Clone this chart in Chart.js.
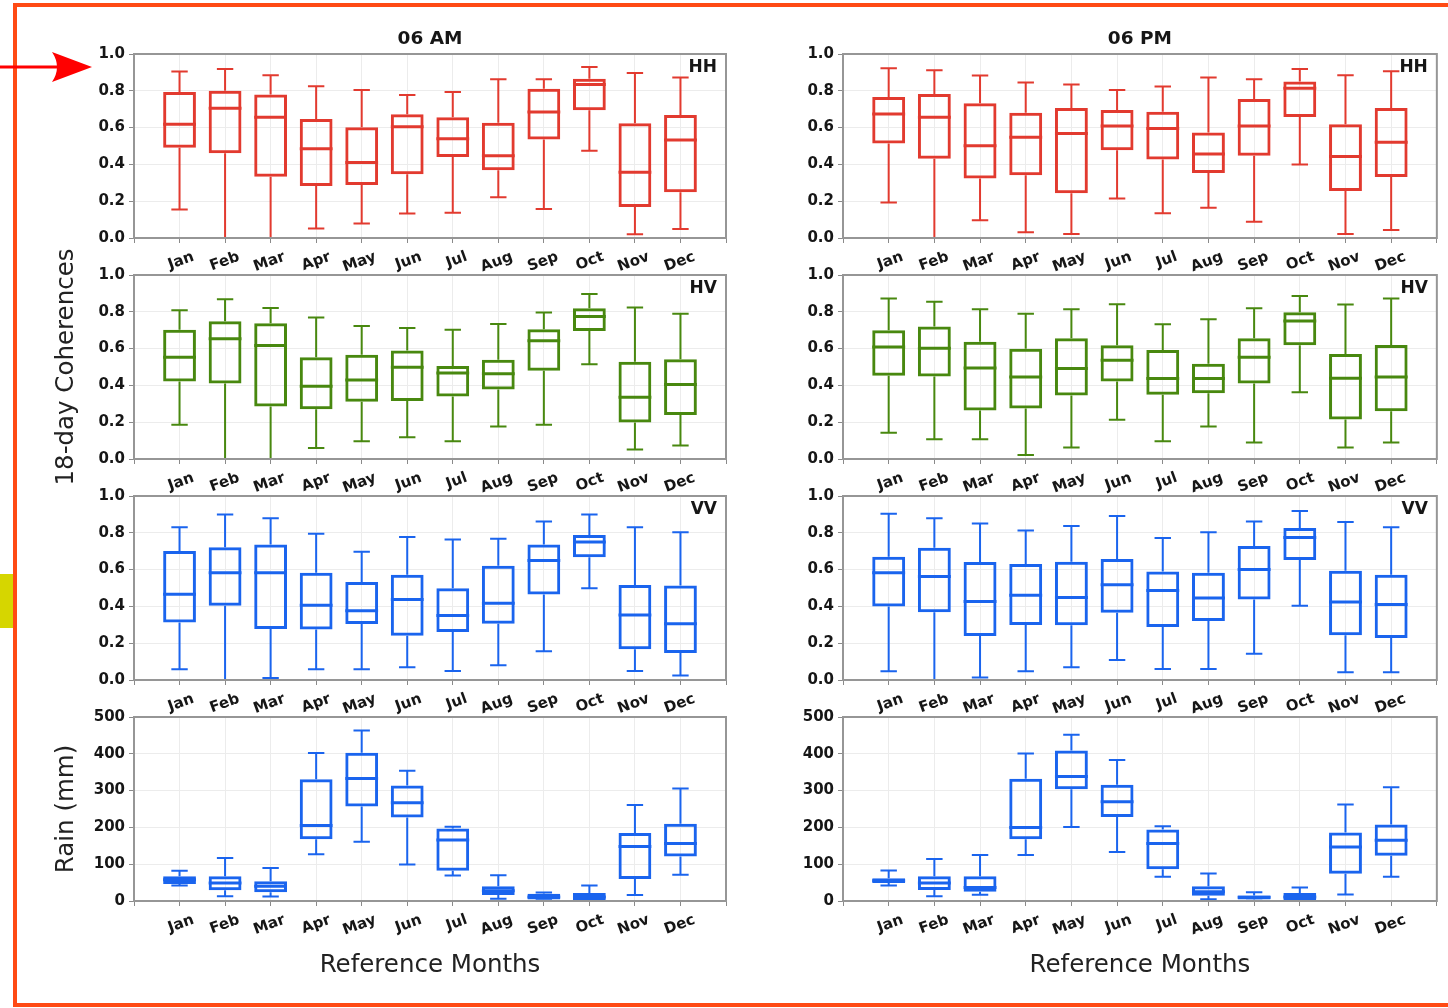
<!DOCTYPE html>
<html>
<head>
<meta charset="utf-8">
<title>18-day Coherences and Rain by Reference Month</title>
<script src="https://cdn.jsdelivr.net/npm/chart.js@4.4.1/dist/chart.umd.min.js"></script>
<style>
  html, body { margin: 0; padding: 0; background: #ffffff; }
  body { width: 1448px; height: 1008px; position: relative; overflow: hidden; }
  canvas { position: absolute; }
  #frame { position: absolute; left: 13px; top: 3px; width: 1460px; height: 1004px;
           border: 4px solid #ff4a14; border-right: none; box-sizing: border-box; }
  #marker { position: absolute; left: 0; top: 574px; width: 13px; height: 54px; background: #d6d600; }
  #pointer { position: absolute; left: 0; top: 40px; }
</style>
</head>
<body>
<div id="frame"></div>
<div id="marker"></div>
<svg id="pointer" width="100" height="60" viewBox="0 0 100 60">
  <line x1="0" y1="27" x2="58" y2="27" stroke="#ff0000" stroke-width="3"/>
  <path d="M92 27 L52 12 Q62 27 52 42 Z" fill="#ff0000"/>
</svg>
<script>
// Months on the x axis
const MONTHS = ['Jan', 'Feb', 'Mar', 'Apr', 'May', 'Jun', 'Jul', 'Aug', 'Sep', 'Oct', 'Nov', 'Dec'];

// Box statistics per month: [lower whisker, Q1, median, Q3, upper whisker]
const AM_HH = [
  [0.155, 0.490, 0.618, 0.793, 0.905], [0.000, 0.460, 0.705, 0.800, 0.919],
  [0.000, 0.333, 0.656, 0.780, 0.885], [0.052, 0.283, 0.485, 0.647, 0.825],
  [0.079, 0.288, 0.411, 0.602, 0.804], [0.133, 0.346, 0.604, 0.672, 0.777],
  [0.137, 0.440, 0.539, 0.656, 0.793], [0.222, 0.368, 0.447, 0.627, 0.863],
  [0.157, 0.535, 0.685, 0.811, 0.863], [0.474, 0.694, 0.834, 0.865, 0.930],
  [0.020, 0.168, 0.357, 0.623, 0.897], [0.049, 0.249, 0.532, 0.668, 0.872]
];
const PM_HH = [
  [0.193, 0.514, 0.674, 0.766, 0.923], [0.000, 0.431, 0.656, 0.782, 0.912],
  [0.097, 0.324, 0.501, 0.733, 0.883], [0.031, 0.341, 0.548, 0.681, 0.845],
  [0.022, 0.243, 0.568, 0.706, 0.834], [0.214, 0.477, 0.609, 0.695, 0.804],
  [0.135, 0.427, 0.595, 0.686, 0.823], [0.164, 0.353, 0.456, 0.573, 0.872],
  [0.088, 0.447, 0.609, 0.755, 0.863], [0.400, 0.658, 0.814, 0.850, 0.919],
  [0.022, 0.256, 0.443, 0.618, 0.885], [0.043, 0.332, 0.521, 0.706, 0.906]
];
const AM_HV = [
  [0.186, 0.421, 0.553, 0.703, 0.808], [0.000, 0.410, 0.653, 0.749, 0.868],
  [0.000, 0.286, 0.617, 0.738, 0.821], [0.060, 0.271, 0.396, 0.553, 0.769],
  [0.096, 0.311, 0.429, 0.566, 0.723], [0.118, 0.315, 0.499, 0.590, 0.712],
  [0.096, 0.340, 0.468, 0.506, 0.703], [0.177, 0.378, 0.463, 0.539, 0.734],
  [0.186, 0.479, 0.642, 0.705, 0.796], [0.515, 0.696, 0.774, 0.819, 0.897],
  [0.051, 0.199, 0.336, 0.528, 0.823], [0.074, 0.239, 0.405, 0.542, 0.790]
];
const PM_HV = [
  [0.143, 0.452, 0.609, 0.700, 0.872], [0.108, 0.448, 0.602, 0.720, 0.855],
  [0.108, 0.264, 0.494, 0.637, 0.814], [0.022, 0.275, 0.445, 0.599, 0.790],
  [0.063, 0.345, 0.492, 0.656, 0.814], [0.213, 0.421, 0.537, 0.618, 0.841],
  [0.096, 0.349, 0.438, 0.593, 0.732], [0.177, 0.358, 0.438, 0.517, 0.759],
  [0.089, 0.410, 0.553, 0.656, 0.819], [0.363, 0.618, 0.750, 0.797, 0.886],
  [0.063, 0.215, 0.439, 0.571, 0.839], [0.089, 0.259, 0.445, 0.620, 0.872]
];
const AM_VV = [
  [0.058, 0.313, 0.466, 0.701, 0.830], [0.000, 0.404, 0.583, 0.721, 0.900],
  [0.011, 0.277, 0.583, 0.737, 0.879], [0.058, 0.275, 0.406, 0.583, 0.795],
  [0.058, 0.304, 0.377, 0.533, 0.697], [0.069, 0.241, 0.438, 0.572, 0.777],
  [0.049, 0.261, 0.350, 0.498, 0.763], [0.080, 0.306, 0.417, 0.621, 0.768],
  [0.156, 0.464, 0.650, 0.737, 0.862], [0.498, 0.667, 0.750, 0.788, 0.900],
  [0.049, 0.167, 0.353, 0.516, 0.830], [0.024, 0.147, 0.306, 0.514, 0.803]
];
const PM_VV = [
  [0.047, 0.399, 0.583, 0.670, 0.904], [0.000, 0.368, 0.562, 0.719, 0.879],
  [0.013, 0.239, 0.426, 0.641, 0.851], [0.047, 0.299, 0.460, 0.630, 0.813],
  [0.069, 0.297, 0.449, 0.643, 0.837], [0.109, 0.366, 0.518, 0.658, 0.891],
  [0.060, 0.288, 0.487, 0.589, 0.772], [0.060, 0.321, 0.446, 0.583, 0.803],
  [0.143, 0.437, 0.601, 0.728, 0.861], [0.404, 0.652, 0.774, 0.826, 0.918],
  [0.042, 0.243, 0.424, 0.594, 0.859], [0.042, 0.228, 0.411, 0.572, 0.830]
];
const AM_RAIN = [
  [42, 46, 58, 67, 82], [13, 29, 49, 67, 117], [12, 24, 40, 54, 90],
  [127, 168, 205, 331, 402], [161, 257, 333, 403, 463], [99, 227, 267, 314, 354],
  [69, 82, 166, 197, 202], [6, 16, 28, 40, 70], [2, 4, 11, 20, 23],
  [0, 3, 11, 22, 42], [16, 60, 148, 185, 261], [71, 121, 156, 210, 306]
];
const PM_RAIN = [
  [42, 49, 55, 62, 83], [13, 30, 49, 67, 114], [17, 25, 37, 67, 125],
  [125, 168, 200, 332, 401], [201, 304, 338, 409, 452], [133, 228, 270, 316, 383],
  [66, 86, 156, 194, 203], [5, 14, 25, 40, 75], [1, 4, 10, 15, 24],
  [0, 3, 11, 22, 37], [18, 74, 147, 186, 262], [66, 123, 165, 208, 309]
];

// Y tick settings
const COH_TICKS = { max: 1, step: 0.2, decimals: 1 };
const RAIN_TICKS = { max: 500, step: 100, decimals: 0 };

const RED = '#e23a2f';
const GREEN = '#48880f';
const BLUE = '#1a64ee';
const FONT = 'DejaVu Sans';
const TICK_FONT = { family: FONT, size: 15, weight: 'bold' };
const TEXT = '#161616';
const LABEL_FONT = { family: FONT, size: 24.5 };

// Whiskers, caps, medians, the axes frame and the panel captions
function boxPlugin(stats, color, tag, title) {
  return {
    id: 'boxWhiskers',
    afterDatasetsDraw(chart) {
      const { ctx, chartArea: a, scales: { x, y } } = chart;
      const meta = chart.getDatasetMeta(0);
      ctx.save();
      ctx.beginPath();
      ctx.rect(a.left, a.top, a.width, a.height);
      ctx.clip();
      ctx.strokeStyle = color;
      stats.forEach((s, i) => {
        const bar = meta.data[i];
        const cx = x.getPixelForValue(i + 1);
        const half = bar.width / 2;
        const cap = bar.width / 4;
        const [lo, q1, med, q3, hi] = s.map(v => y.getPixelForValue(v));
        ctx.lineWidth = 2;
        ctx.beginPath();
        ctx.moveTo(cx, q3); ctx.lineTo(cx, hi);
        ctx.moveTo(cx - cap, hi); ctx.lineTo(cx + cap, hi);
        ctx.moveTo(cx, q1); ctx.lineTo(cx, lo);
        ctx.moveTo(cx - cap, lo); ctx.lineTo(cx + cap, lo);
        ctx.stroke();
        ctx.lineWidth = 3;
        ctx.beginPath();
        ctx.moveTo(cx - half, med); ctx.lineTo(cx + half, med);
        ctx.stroke();
      });
      ctx.restore();

      ctx.save();
      ctx.strokeStyle = '#969696';
      ctx.lineWidth = 2;
      ctx.strokeRect(a.left, a.top, a.width, a.height);
      ctx.fillStyle = TEXT;
      ctx.textBaseline = 'middle';
      if (tag) {
        ctx.font = 'bold 17px "' + FONT + '"';
        ctx.textAlign = 'right';
        ctx.fillText(tag, a.right - 9, a.top + 14);
      }
      if (title) {
        ctx.font = 'bold 18.5px "' + FONT + '"';
        ctx.textAlign = 'center';
        ctx.fillText(title, (a.left + a.right) / 2, a.top - 15);
      }
      ctx.restore();
    }
  };
}

function makePanel(p) {
  const canvas = document.createElement('canvas');
  const top = p.plotTop - 44;
  const height = p.plotBottom + p.axisH - top;
  canvas.width = p.width;
  canvas.height = height;
  canvas.style.left = p.left + 'px';
  canvas.style.top = top + 'px';
  document.body.appendChild(canvas);

  const grid = { color: '#ececec', lineWidth: 1, tickLength: 5, tickColor: '#8a8a8a', offset: false };

  new Chart(canvas, {
    type: 'bar',
    data: {
      datasets: [{
        data: p.stats.map((s, i) => ({ x: i + 1, y: [s[1], s[3]] })),
        backgroundColor: 'rgba(255,255,255,0)',
        borderColor: p.color,
        borderWidth: 3,
        borderSkipped: false,
        barPercentage: 0.72,
        categoryPercentage: 1.0
      }]
    },
    options: {
      responsive: false,
      animation: false,
      devicePixelRatio: 1,
      layout: { padding: { top: 44, right: p.padRight, bottom: 0, left: 0 } },
      plugins: { legend: { display: false }, tooltip: { enabled: false }, title: { display: false } },
      scales: {
        x: {
          type: 'linear', min: 0, max: MONTHS.length + 1, offset: false,
          afterBuildTicks: s => { s.ticks = Array.from({ length: MONTHS.length + 2 }, (_, v) => ({ value: v })); },
          afterFit: s => { s.height = p.axisH; },
          ticks: {
            autoSkip: false, minRotation: 20, maxRotation: 20, labelOffset: 14, padding: 5,
            font: TICK_FONT, color: TEXT,
            callback: v => MONTHS[v - 1] || ''
          },
          grid: grid,
          border: { display: false },
          title: p.xTitle
            ? { display: true, text: p.xTitle, color: '#222', font: LABEL_FONT, padding: { top: 0, bottom: 21 } }
            : { display: false }
        },
        y: {
          min: 0, max: p.ticks.max,
          afterFit: s => { s.width = p.yAxisW; },
          ticks: {
            stepSize: p.ticks.step, padding: 4, font: TICK_FONT, color: TEXT,
            callback: v => Number(v).toFixed(p.ticks.decimals)
          },
          grid: grid,
          border: { display: false },
          title: p.yTitle
            ? { display: true, text: p.yTitle, color: '#222', font: LABEL_FONT, padding: { top: 32, bottom: 0 } }
            : { display: false }
        }
      }
    },
    plugins: [boxPlugin(p.stats, p.color, p.tag, p.title)]
  });
}

const ROWS = [
  { plotTop: 54, plotBottom: 238, axisH: 46 },
  { plotTop: 275, plotBottom: 459, axisH: 46 },
  { plotTop: 496, plotBottom: 680, axisH: 46 },
  { plotTop: 717, plotBottom: 901, axisH: 100 }
];
const COLS = [
  { left: 20, width: 720, yAxisW: 114, padRight: 14 },
  { left: 740, width: 708, yAxisW: 103, padRight: 9 }
];

const PANELS = [
  { row: 0, col: 0, stats: AM_HH, color: RED, tag: 'HH', title: '06 AM', ticks: COH_TICKS },
  { row: 0, col: 1, stats: PM_HH, color: RED, tag: 'HH', title: '06 PM', ticks: COH_TICKS },
  { row: 1, col: 0, stats: AM_HV, color: GREEN, tag: 'HV', yTitle: '18-day Coherences', ticks: COH_TICKS },
  { row: 1, col: 1, stats: PM_HV, color: GREEN, tag: 'HV', ticks: COH_TICKS },
  { row: 2, col: 0, stats: AM_VV, color: BLUE, tag: 'VV', ticks: COH_TICKS },
  { row: 2, col: 1, stats: PM_VV, color: BLUE, tag: 'VV', ticks: COH_TICKS },
  { row: 3, col: 0, stats: AM_RAIN, color: BLUE, yTitle: 'Rain (mm)', xTitle: 'Reference Months', ticks: RAIN_TICKS },
  { row: 3, col: 1, stats: PM_RAIN, color: BLUE, xTitle: 'Reference Months', ticks: RAIN_TICKS }
];

PANELS.forEach(p => makePanel(Object.assign({}, ROWS[p.row], COLS[p.col], p)));
</script>
</body>
</html>
